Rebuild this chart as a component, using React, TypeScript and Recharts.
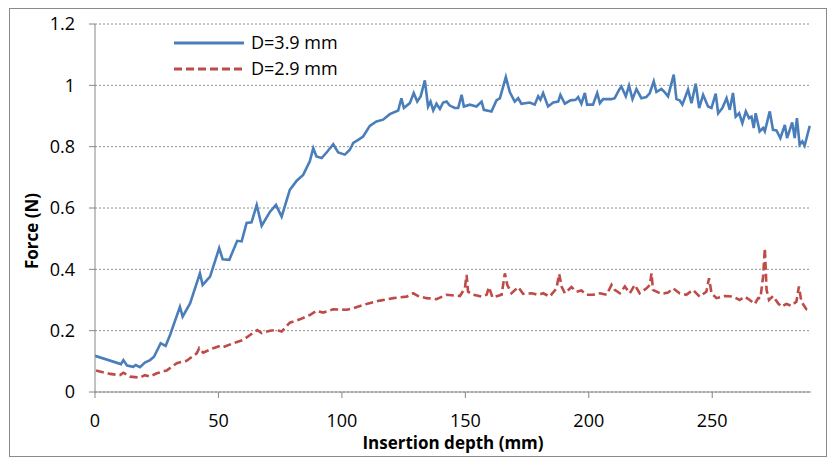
import React from 'react';
import { LineChart, Line, XAxis, YAxis, CartesianGrid, Legend, Label } from 'recharts';

// [insertion depth (mm), force (N)]
const D39: [number, number][] = [
  [0, 0.118], [10.5, 0.091], [11.5, 0.104], [13, 0.086], [15.5, 0.082], [16.5, 0.088], [18.2, 0.081],
  [20.2, 0.096], [22.3, 0.104], [23.9, 0.115], [26.6, 0.159], [28.6, 0.15], [30.4, 0.186], [34.4, 0.278],
  [35.5, 0.246], [38.5, 0.289], [42.5, 0.387], [43.6, 0.349], [46.6, 0.376], [50.3, 0.469], [51.7, 0.433],
  [54.4, 0.431], [57.6, 0.493], [59.4, 0.491], [61.4, 0.551], [63.4, 0.553], [65.5, 0.61], [67.5, 0.542],
  [70.9, 0.588], [73.3, 0.61], [75.6, 0.572], [78.9, 0.659], [81.7, 0.689], [84.3, 0.708], [87.0, 0.752],
  [88.4, 0.795], [89.7, 0.768], [91.8, 0.763], [93.8, 0.781], [96.5, 0.808], [98.5, 0.781], [101.2, 0.774],
  [103.2, 0.79], [104.6, 0.812], [106.6, 0.822], [108.6, 0.833], [111.3, 0.868], [114.0, 0.882], [116.7, 0.888],
  [119.4, 0.906], [122.8, 0.918], [124.1, 0.958], [125.1, 0.926], [127.5, 0.942], [129.1, 0.975], [130.5, 0.947],
  [131.9, 0.964], [133.6, 1.016], [134.9, 0.931], [135.9, 0.947], [137.0, 0.918], [138.3, 0.94], [139.7, 0.923],
  [141.0, 0.944], [142.4, 0.947], [143.7, 0.934], [145.7, 0.926], [147.1, 0.926], [148.5, 0.969], [149.4, 0.931],
  [151.8, 0.937], [154.5, 0.931], [156.6, 0.947], [157.5, 0.92], [160.6, 0.915], [162.6, 0.951], [164.0, 0.958],
  [166.4, 1.027], [168.0, 0.978], [170.0, 0.947], [171.4, 0.958], [172.7, 0.94], [176.1, 0.944], [178.1, 0.937],
  [179.5, 0.964], [180.4, 0.953], [181.5, 0.975], [183.5, 0.931], [185.6, 0.944], [187.6, 0.947], [188.5, 0.969],
  [190.3, 0.94], [192.6, 0.951], [194.7, 0.953], [195.7, 0.962], [197.0, 0.94], [198.4, 0.975], [199.3, 0.937],
  [201.7, 0.937], [203.4, 0.975], [204.5, 0.942], [205.8, 0.955], [209.2, 0.955], [210.5, 0.958], [212.3, 0.986],
  [213.2, 0.996], [215.0, 0.964], [216.3, 0.999], [217.7, 0.955], [219.3, 0.988], [221.3, 0.958], [223.3, 0.962],
  [224.7, 0.975], [226.3, 1.013], [227.4, 0.978], [229.4, 0.988], [230.8, 0.977], [232.1, 0.964], [234.4, 1.035],
  [235.5, 0.955], [236.8, 0.951], [237.9, 0.937], [240.2, 0.986], [241.6, 0.942], [243.3, 1.005], [244.7, 0.926],
  [246.3, 0.969], [248.3, 0.931], [249.7, 0.926], [251.4, 0.973], [252.4, 0.909], [254.1, 0.926], [255.8, 0.958],
  [257.1, 0.92], [258.4, 0.975], [259.5, 0.898], [260.9, 0.909], [262.2, 0.877], [263.6, 0.915], [264.9, 0.893],
  [265.9, 0.898], [266.8, 0.861], [267.6, 0.909], [269.2, 0.85], [270.6, 0.861], [271.3, 0.85], [273.3, 0.915],
  [274.6, 0.855], [276.0, 0.853], [277.6, 0.828], [279.4, 0.871], [280.3, 0.828], [282.4, 0.879], [283.4, 0.828],
  [284.3, 0.893], [285.4, 0.806], [286.5, 0.817], [287.4, 0.803], [289.5, 0.868],
];

const D29: [number, number][] = [
  [0.4, 0.07], [6.1, 0.059], [10.1, 0.055], [11.5, 0.063], [14.2, 0.05], [18.2, 0.047], [20.2, 0.055],
  [22.3, 0.05], [25.0, 0.061], [29.0, 0.07], [33.1, 0.094], [37.1, 0.102], [41.2, 0.126], [42.2, 0.143],
  [43.8, 0.128], [47.9, 0.143], [50.6, 0.15], [51.9, 0.146], [56.0, 0.159], [60.0, 0.17], [62.8, 0.186],
  [65.7, 0.202], [67.5, 0.192], [70.9, 0.2], [73.6, 0.202], [75.6, 0.197], [78.9, 0.226], [83.0, 0.237],
  [87.0, 0.251], [89.7, 0.265], [92.4, 0.259], [96.5, 0.27], [101.9, 0.268], [104.6, 0.273], [110.0, 0.287],
  [115.4, 0.298], [120.8, 0.306], [126.2, 0.311], [128.9, 0.322], [130.9, 0.313], [134.3, 0.306], [138.3, 0.303],
  [142.4, 0.317], [147.8, 0.313], [149.8, 0.338], [150.5, 0.382], [151.1, 0.327], [153.2, 0.317], [156.6, 0.311],
  [158.6, 0.317], [159.6, 0.342], [161.0, 0.308], [164.7, 0.317], [166.0, 0.387], [167.0, 0.349], [168.7, 0.322],
  [171.4, 0.342], [173.4, 0.32], [176.8, 0.322], [179.5, 0.317], [181.5, 0.322], [184.2, 0.311], [186.9, 0.338],
  [188.0, 0.385], [189.0, 0.344], [190.3, 0.322], [193.0, 0.342], [195.0, 0.327], [197.0, 0.331], [199.1, 0.317],
  [201.7, 0.317], [204.5, 0.322], [207.2, 0.317], [209.2, 0.349], [210.5, 0.333], [212.6, 0.322], [214.6, 0.344],
  [216.6, 0.322], [218.6, 0.349], [220.6, 0.322], [223.4, 0.338], [224.7, 0.349], [225.4, 0.387], [226.0, 0.333],
  [229.4, 0.32], [232.1, 0.324], [234.1, 0.338], [236.8, 0.322], [239.5, 0.317], [242.2, 0.333], [244.9, 0.311],
  [247.6, 0.327], [248.7, 0.371], [249.7, 0.322], [251.7, 0.306], [255.1, 0.313], [258.4, 0.311], [261.1, 0.3],
  [263.2, 0.311], [265.2, 0.3], [267.2, 0.287], [268.6, 0.306], [269.5, 0.306], [270.6, 0.376], [271.3, 0.469],
  [272.0, 0.333], [273.0, 0.3], [274.6, 0.313], [276.7, 0.289], [278.0, 0.278], [280.0, 0.287], [282.1, 0.281],
  [284.1, 0.295], [285.1, 0.344], [286.1, 0.295], [288.1, 0.27], [289.2, 0.268],
];

const X_TICKS = [0, 50, 100, 150, 200, 250];
const Y_TICKS = [0, 0.2, 0.4, 0.6, 0.8, 1, 1.2];

const FONT = '"Open Sans", sans-serif';
const AXIS_GRAY = '#868686';

const toRows = (pts: [number, number][]) => pts.map(([x, y]) => ({ x, y }));

const renderLegend = () => {
  const items = [
    { name: 'D=3.9 mm', color: '#4a7ebb', dash: undefined },
    { name: 'D=2.9 mm', color: '#be4b48', dash: '8 4' },
  ];
  return (
    <div style={{ fontFamily: FONT, fontSize: 18, color: '#000' }}>
      {items.map((it) => (
        <div key={it.name} style={{ display: 'flex', alignItems: 'center', height: 26 }}>
          <svg width={72} height={8} style={{ marginTop: 2 }}>
            <line x1={1} y1={4} x2={71} y2={4} stroke={it.color} strokeWidth={3} strokeDasharray={it.dash} />
          </svg>
          <span style={{ marginLeft: 6, lineHeight: '26px' }}>{it.name}</span>
        </div>
      ))}
    </div>
  );
};

export default function App() {
  return (
    <div style={{ position: 'absolute', left: 0, top: 0, width: 830, height: 459, background: '#fff' }}>
      <div
        style={{
          position: 'absolute', left: 9, top: 8, width: 818, height: 449,
          border: '1px solid #8a8a8a', boxSizing: 'border-box',
        }}
      />
      <LineChart width={830} height={459} margin={{ top: 24, right: 19, bottom: 27, left: 35 }}>
        <CartesianGrid vertical={false} stroke="#8e8e8e" strokeDasharray="2 2" />
        <XAxis
          type="number"
          dataKey="x"
          domain={[0, 290]}
          ticks={X_TICKS}
          allowDataOverflow
          height={40}
          stroke={AXIS_GRAY}
          tickSize={6}
          tickMargin={16}
          tick={{ fill: '#000', fontSize: 18, fontFamily: FONT }}
        >
          <Label
            content={() => (
              <text x={453} y={449} textAnchor="middle" fontFamily={FONT} fontSize={17} fontWeight="bold" fill="#000">
                Insertion depth (mm)
              </text>
            )}
          />
        </XAxis>
        <YAxis
          type="number"
          dataKey="y"
          domain={[0, 1.2]}
          ticks={Y_TICKS}
          width={60}
          stroke={AXIS_GRAY}
          tickSize={6}
          tickMargin={14}
          tickFormatter={(v: number) => String(Number(v.toFixed(1)))}
          tick={{ fill: '#000', fontSize: 18, fontFamily: FONT }}
        >
          <Label
            content={() => (
              <text
                x={38}
                y={231}
                transform="rotate(-90 38 231)"
                textAnchor="middle"
                fontFamily={FONT}
                fontSize={17}
                fontWeight="bold"
                fill="#000"
              >
                Force (N)
              </text>
            )}
          />
        </YAxis>
        <Legend
          layout="vertical"
          align="center"
          verticalAlign="middle"
          content={renderLegend}
          wrapperStyle={{ left: 173, top: 29, width: 200 }}
        />
        <Line
          data={toRows(D39)}
          dataKey="y"
          name="D=3.9 mm"
          type="linear"
          stroke="#4a7ebb"
          strokeWidth={2.6}
          dot={false}
          isAnimationActive={false}
        />
        <Line
          data={toRows(D29)}
          dataKey="y"
          name="D=2.9 mm"
          type="linear"
          stroke="#be4b48"
          strokeWidth={2.6}
          strokeDasharray="8 4"
          dot={false}
          isAnimationActive={false}
        />
      </LineChart>
    </div>
  );
}
